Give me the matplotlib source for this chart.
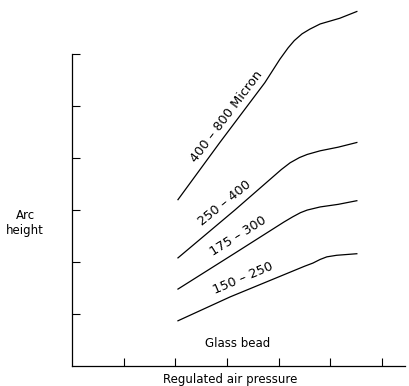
import matplotlib.pyplot as plt

# arc height vs regulated air pressure, glass bead sizes
x_400_800 = [2.05, 2.86, 3.73, 4.02, 4.18, 4.30, 4.45, 4.60, 4.80, 5.18, 5.51]
y_400_800 = [3.20, 4.30, 5.45, 5.90, 6.12, 6.26, 6.39, 6.48, 6.58, 6.69, 6.82]

x_250_400 = [2.05, 3.15, 4.05, 4.22, 4.40, 4.55, 4.80, 5.15, 5.51]
y_250_400 = [2.08, 3.00, 3.78, 3.91, 4.01, 4.07, 4.14, 4.21, 4.30]

x_175_300 = [2.05, 3.15, 4.10, 4.27, 4.42, 4.55, 4.80, 5.15, 5.51]
y_175_300 = [1.48, 2.17, 2.77, 2.87, 2.95, 3.00, 3.06, 3.11, 3.18]

x_150_250 = [2.05, 3.06, 4.50, 4.66, 4.80, 4.93, 5.12, 5.51]
y_150_250 = [0.87, 1.33, 1.92, 1.98, 2.05, 2.10, 2.13, 2.16]

series = [
    (x_400_800, y_400_800, '400 – 800 Micron', (2.99, 4.80), 53),
    (x_250_400, y_250_400, '250 – 400', (2.96, 3.14), 39),
    (x_175_300, y_175_300, '175 – 300', (3.22, 2.50), 32),
    (x_150_250, y_150_250, '150 – 250', (3.30, 1.68), 23),
]

fig = plt.figure(figsize=(4.10, 3.86), dpi=100)
ax = fig.add_axes([0.1756, 0.0518, 0.812, 0.808])

for xs, ys, label, pos, rot in series:
    ax.plot(xs, ys, color='black', linewidth=0.9, clip_on=False)
    ax.text(pos[0], pos[1], label, rotation=rot, rotation_mode='anchor',
            ha='center', va='center', fontsize=9.3)

ax.text(3.21, 0.44, 'Glass bead', ha='center', va='center', fontsize=8.5)

ax.set_xlim(0, 6.44)
ax.set_ylim(0, 6)
ax.set_xticks([1, 2, 3, 4, 5, 6])
ax.set_yticks([1, 2, 3, 4, 5, 6])
ax.set_xticklabels([])
ax.set_yticklabels([])
ax.tick_params(direction='in', length=6, width=0.8)
ax.spines['top'].set_visible(False)
ax.spines['right'].set_visible(False)
for s in ('left', 'bottom'):
    ax.spines[s].set_linewidth(0.9)

fig.text(25 / 410, 1 - 223 / 386, 'Arc\nheight', ha='center', va='center', fontsize=8.5)
fig.text(230 / 410, 1 - 380 / 386, 'Regulated air pressure', ha='center', va='center', fontsize=8.5)

fig.savefig('out.png', dpi=100)
